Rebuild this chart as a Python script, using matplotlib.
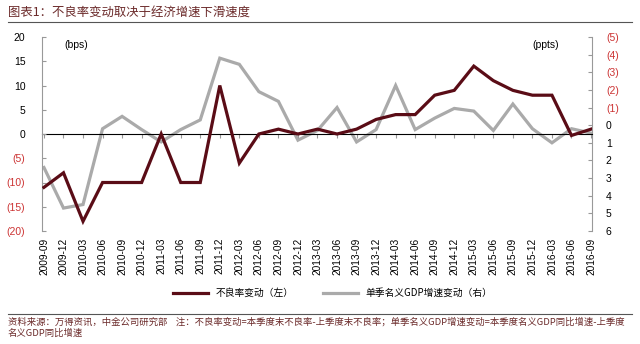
import matplotlib
matplotlib.use("Agg")
import matplotlib.pyplot as plt
import numpy as np

plt.rcParams['font.family'] = ['Liberation Sans', 'Noto Sans CJK SC', 'DejaVu Sans']

quarters = ["2009-09", "2009-12", "2010-03", "2010-06", "2010-09", "2010-12",
            "2011-03", "2011-06", "2011-09", "2011-12", "2012-03", "2012-06",
            "2012-09", "2012-12", "2013-03", "2013-06", "2013-09", "2013-12",
            "2014-03", "2014-06", "2014-09", "2014-12", "2015-03", "2015-06",
            "2015-09", "2015-12", "2016-03", "2016-06", "2016-09"]

npl_change = [-11, -8, -18, -10, -10, -10, 0, -10, -10, 10, -6, 0,
              1, 0, 1, 0, 1, 3, 4, 4, 8, 9, 14, 11, 9, 8, 8, -0.3, 1]

gdp_change = [2.4, 4.7, 4.5, 0.2, -0.5, 0.25, 0.95, 0.25, -0.3, -3.8, -3.45, -1.9,
              -1.35, 0.85, 0.3, -1.0, 0.95, 0.25, -2.25, 0.25, -0.4, -0.95, -0.8, 0.3,
              -1.2, 0.2, 1.0, 0.2, 0.45]

left_ticks = [-20, -15, -10, -5, 0, 5, 10, 15, 20]
right_ticks = [-5, -4, -3, -2, -1, 0, 1, 2, 3, 4, 5, 6]

title = "图表1：不良率变动取决于经济增速下滑速度"
legend_labels = ["不良率变动（左）", "单季名义GDP增速变动（右）"]
source = ("资料来源：万得资讯，中金公司研究部    注：不良率变动=本季度末不良率-上季度末不良率；"
          "单季名义GDP增速变动=本季度名义GDP同比增速-上季度\n名义GDP同比增速")

dark = '#5a0c16'
grey = '#aaaaaa'
red = '#cc3333'
axis_grey = '#999999'
text_brown = '#6b2a2a'
cjk = ['Noto Sans CJK SC', 'DejaVu Sans']

fig = plt.figure(figsize=(6.4, 3.44), dpi=100)
ax = fig.add_axes([42/640, 1-231/344, (592-42)/640, (231-37)/344])
ax2 = ax.twinx()

x = np.arange(len(quarters))
ax.plot(x, npl_change, color=dark, lw=2.3, solid_joinstyle='miter', zorder=3)
ax2.plot(x, gdp_change, color=grey, lw=2.3, solid_joinstyle='miter', zorder=2)
ax.set_zorder(ax2.get_zorder() + 1)
ax.patch.set_visible(False)

ax.set_xlim(-0.1, len(quarters) - 1 + 0.05)
ax.set_ylim(-20, 20)
ax2.set_ylim(6, -5)

def fmt(v):
    return f"({abs(v)})" if v < 0 else f"{v}"

ax.set_yticks(left_ticks)
ax.set_yticklabels([fmt(v) for v in left_ticks], fontsize=7.5)
for lbl, v in zip(ax.get_yticklabels(), left_ticks):
    lbl.set_color(red if v < 0 else 'black')
ax2.set_yticks(right_ticks)
ax2.set_yticklabels([fmt(v) for v in right_ticks], fontsize=7.5)
for lbl, v in zip(ax2.get_yticklabels(), right_ticks):
    lbl.set_color(red if v < 0 else 'black')

ax.set_xticks(x)
ax.set_xticklabels(quarters, rotation=90, fontsize=7.3)
ax.tick_params(axis='x', length=0, pad=5)
ax.tick_params(axis='y', direction='in', length=3, color=axis_grey, pad=12)
ax2.tick_params(axis='y', direction='in', length=3, color=axis_grey, pad=10)

for a in (ax, ax2):
    for s in ('top', 'bottom'):
        a.spines[s].set_visible(False)
    a.spines['left'].set_color(axis_grey)
    a.spines['right'].set_color(axis_grey)
    a.spines['left'].set_linewidth(0.8)
    a.spines['right'].set_linewidth(0.8)
ax2.spines['left'].set_visible(False)
ax.spines['right'].set_visible(False)
ax2.tick_params(axis='x', length=0)

# zero axis with category ticks
sec = ax.secondary_xaxis(0.5)
sec.set_xticks(x)
sec.set_xticklabels([])
sec.tick_params(direction='in', length=3, color=axis_grey)
sec.spines['bottom'].set_color(axis_grey)
sec.spines['bottom'].set_linewidth(0.8)

ax.text(0.04, 0.985, "(bps)", transform=ax.transAxes, fontsize=7.5, va='top', ha='left')
ax2.text(0.94, 0.985, "(ppts)", transform=ax2.transAxes, fontsize=7.5, va='top', ha='right')

# title and rules
fig.text(8/640, 1-12/344, title, fontsize=8.9, color=text_brown, va='center', ha='left',
         family=cjk)
fig.add_artist(plt.Line2D([8/640, 632/640], [1-22/344, 1-22/344], color='#555555', lw=0.8))
fig.add_artist(plt.Line2D([8/640, 632/640], [1-314/344, 1-314/344], color='#555555', lw=0.8))
fig.text(8/640, 1-317/344, source, fontsize=6.75, color=text_brown, va='top', ha='left',
         family=cjk, linespacing=1.3)

h1, = ax.plot([], [], color=dark, lw=2.3)
h2, = ax.plot([], [], color=grey, lw=2.3)
fig.legend([h1, h2], legend_labels, loc='center', bbox_to_anchor=(0.52, 1-293/344),
           ncol=2, frameon=False, handlelength=3.6, columnspacing=3,
           prop={'family': cjk, 'size': 7})

fig.savefig("out.png", dpi=100)
